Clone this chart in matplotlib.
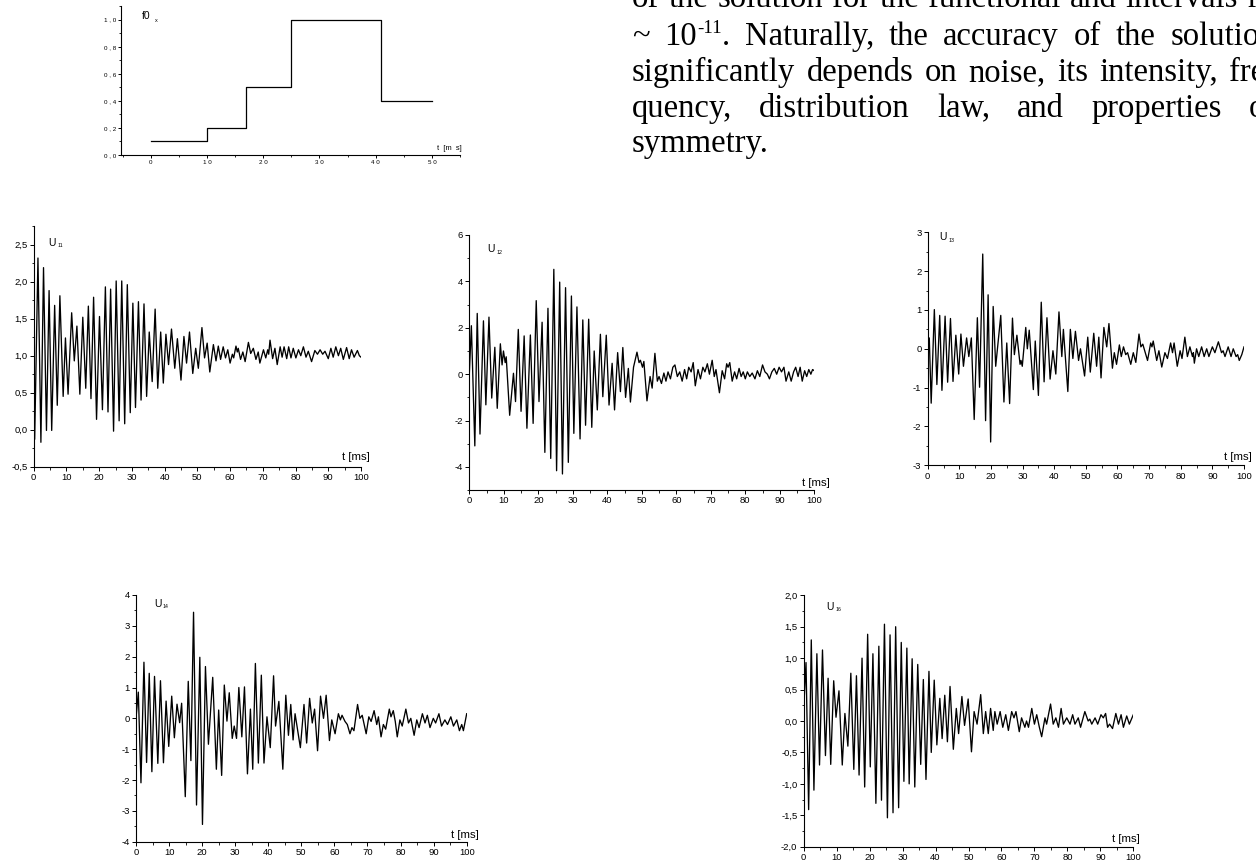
import matplotlib
matplotlib.use("Agg")
import matplotlib.pyplot as plt
from matplotlib.ticker import MultipleLocator, FuncFormatter

W, H = 1256, 865
fig = plt.figure(figsize=(W / 100, H / 100), dpi=100)
fig.patch.set_facecolor("white")

SANS = "Liberation Sans"
SERIF = "Liberation Serif"

# ---------------- data ----------------
f0_t = [0, 10, 17, 25, 41, 50]
f0_v = [0.1, 0.2, 0.5, 1.0, 0.4, 0.4]

u11_t = [0, 0.3, 1.3, 2.2, 3.0, 3.9, 4.7, 5.5, 6.4, 7.2, 8.0, 9.0, 9.7, 10.5, 11.6, 12.4, 13.2, 14.1,
         15.0, 15.9, 16.7, 17.5, 18.3, 19.2, 20.1, 21.0, 21.9, 22.7, 23.5, 24.4, 25.2, 26.1, 26.9, 27.8,
         28.6, 29.5, 30.3, 31.1, 32.0, 32.8, 33.7, 34.5, 35.3, 36.2, 37.1, 37.9, 38.8, 39.6, 40.4, 41.2,
         42.1, 43.1, 43.9, 45.0, 45.9, 46.7, 47.6, 48.6, 49.5, 50.3, 51.4, 52.2, 53.0, 53.8, 54.9,
         55.7, 56.4, 57.1, 57.9, 58.6, 59.3, 60.0, 60.7, 61.1, 61.8, 62.2, 62.5, 63.2, 63.9, 64.6, 65.6,
         66.3, 67.1, 67.9, 68.6, 69.1, 70.2, 70.9, 71.5, 71.8, 72.2, 73.0, 73.7, 74.4, 75.3, 75.9, 76.5,
         77.3, 77.9, 78.6, 79.3, 80.1, 80.9, 81.6, 82.4, 83.2, 83.9, 84.9, 85.9, 86.7, 87.5, 88.3, 89.0,
         90.0, 90.8, 91.5, 92.3, 93.1, 93.8, 94.6, 95.6, 96.4, 97.1, 97.9, 98.9, 99.5, 100]
u11_v = [1.0, -0.13, 2.32, -0.17, 2.19, -0.01, 1.88, -0.01, 1.68, 0.33, 1.81, 0.45, 1.24, 0.48, 1.58, 0.93,
         1.40, 0.48, 1.52, 0.56, 1.67, 0.42, 1.79, 0.14, 1.53, 0.27, 1.93, 0.24, 1.90, -0.02, 2.01, 0.12,
         2.01, 0.08, 1.96, 0.23, 1.71, 0.30, 1.73, 0.40, 1.70, 0.45, 1.32, 0.65, 1.63, 0.56, 1.32, 0.63,
         1.29, 0.88, 1.36, 0.83, 1.23, 0.67, 1.26, 0.90, 1.32, 0.76, 1.10, 0.83, 1.38, 0.97, 1.17, 0.78,
         1.15, 0.93, 1.13, 0.95, 1.12, 0.97, 1.08, 0.90, 1.02, 0.97, 1.13, 1.05, 1.10, 0.95, 1.05, 0.92,
         1.18, 1.03, 1.10, 0.95, 1.05, 0.90, 1.08, 0.97, 1.08, 1.02, 1.21, 0.96, 1.10, 0.88, 1.12, 0.98,
         1.12, 0.96, 1.12, 0.97, 1.10, 0.97, 1.08, 1.00, 1.12, 0.98, 1.06, 0.92, 1.07, 1.02, 1.08, 1.02,
         1.06, 0.96, 1.10, 0.98, 1.12, 1.00, 1.10, 0.95, 1.11, 0.96, 1.08, 0.98, 1.07, 1.00, 0.98]

u12_t = [0, 0.6, 1.6, 2.3, 3.1, 4.1, 4.8, 5.7, 6.5, 7.4, 8.1, 9.0, 9.5, 9.9, 10.4, 10.7, 11.7, 12.8, 13.4,
         14.2, 15.0, 15.9, 16.7, 17.7, 18.5, 19.4, 20.2, 21.1, 21.9, 22.8, 23.6, 24.5, 25.3, 26.2, 27.0,
         27.9, 28.7, 29.6, 30.3, 31.2, 32.1, 32.9, 33.7, 34.6, 35.5, 36.2, 37.1, 38.0, 38.7, 39.7, 40.5,
         41.4, 42.1, 43.0, 43.8, 44.5, 45.3, 46.1, 46.7, 47.6, 48.6, 49.2, 49.6, 50.2, 50.6, 51.5, 52.4,
         53.0, 53.8, 54.5, 55.0, 55.7, 56.4, 57.0, 57.6, 58.3, 59.0, 59.6, 60.3, 61.0, 61.7, 62.4, 63.0,
         63.6, 64.3, 64.9, 65.5, 66.3, 67.0, 67.7, 68.3, 69.0, 69.6, 70.4, 71.0, 71.5, 72.5, 73.3, 74.0,
         74.6, 75.0, 75.5, 76.2, 76.9, 77.5, 78.2, 78.8, 79.4, 80.0, 80.6, 81.3, 82.0, 82.8, 83.5, 84.2,
         85.0, 85.7, 86.4, 87.0, 87.7, 88.4, 89.1, 89.8, 90.5, 91.2, 91.8, 92.6, 93.3, 94.0, 94.6, 95.3,
         95.9, 96.5, 97.2, 97.8, 98.4, 99.0, 99.5, 100]
u12_v = [0.0, 2.09, -3.09, 2.62, -2.58, 2.30, -1.32, 2.46, -1.03, 1.16, -1.47, 1.31, 0.40, 1.0, 0.5, 0.75,
         -1.77, 0.04, -1.18, 1.93, -1.6, 1.65, -2.33, 1.69, -2.12, 3.17, -1.18, 2.24, -3.37, 2.84, -3.63,
         4.52, -4.16, 3.97, -4.30, 3.73, -3.80, 3.37, -2.55, 2.9, -2.79, 2.34, -2.2, 2.37, -2.29, 1.0,
         -1.54, 1.72, -0.97, 1.68, -1.33, 0.47, -1.54, 0.93, -0.75, 1.15, -1.0, 0.25, -1.2, 0.3, 0.95,
         0.5, 0.6, 0.3, 0.55, -1.15, -0.1, -0.6, 0.9, -0.3, -0.1, -0.4, 0.05, -0.3, 0.1, -0.2, 0.3, 0.4,
         -0.1, 0.1, -0.3, 0.2, -0.2, 0.3, 0.1, 0.5, -0.5, 0.2, -0.2, 0.3, 0.1, 0.45, 0.0, 0.6, -0.1, 0.2,
         -0.8, 0.15, -0.2, 0.45, 0.3, 0.5, -0.3, 0.1, -0.2, 0.25, -0.1, 0.1, -0.2, 0.1, -0.1, 0.05, -0.2,
         0.15, -0.1, 0.4, 0.1, 0.0, -0.2, 0.1, 0.25, 0.0, 0.3, 0.1, 0.3, -0.3, 0.1, -0.3, 0.1, 0.3, -0.1,
         0.3, -0.3, 0.15, -0.1, 0.2, 0.0, 0.2, 0.15]

u13_t = [0, 0.5, 1.1, 2.1, 2.9, 3.8, 4.5, 5.5, 6.3, 7.2, 8.0, 8.9, 9.8, 10.5, 11.3, 12.3, 13.0, 13.8, 14.7,
         15.7, 16.4, 17.4, 18.3, 19.1, 19.9, 20.7, 21.5, 23.1, 24.1, 25.0, 25.9, 26.8, 27.4, 28.2, 29.2,
         29.5, 29.9, 31.0, 31.5, 32.1, 33.4, 34.0, 35.0, 35.9, 36.8, 37.7, 38.7, 39.6, 40.5, 41.5, 42.4,
         42.9, 44.3, 45.1, 45.9, 46.7, 47.7, 48.3, 49.6, 50.6, 51.4, 52.5, 53.4, 54.1, 54.8, 55.7, 56.6,
         57.3, 58.4, 59.0, 59.7, 60.6, 61.2, 61.9, 62.6, 63.2, 64.2, 65.0, 65.8, 66.8, 67.4, 68.0, 69.5,
         70.5, 70.9, 71.3, 72.4, 73.1, 74.0, 75.0, 75.8, 76.8, 77.4, 77.9, 78.9, 79.8, 80.4, 81.3, 82.1,
         82.9, 83.7, 84.0, 84.3, 85.0, 85.7, 86.6, 87.4, 88.2, 88.9, 90.0, 90.8, 91.9, 92.9, 93.4, 94.0,
         95.0, 95.9, 96.6, 97.5, 98.0, 98.5, 99.3, 100]
u13_v = [0.0, 0.28, -1.40, 1.01, -0.92, 0.86, -1.07, 0.84, -0.86, 0.78, -0.84, 0.35, -0.65, 0.38, -0.45,
         0.28, -0.2, 0.28, -1.82, 0.80, -0.99, 2.44, -1.85, 1.39, -2.40, 1.09, -0.45, 0.86, -1.37, 0.15,
         -1.41, 0.79, -0.15, 0.35, -0.4, -0.3, -0.45, 0.55, 0.0, 0.48, -1.05, 0.2, -1.2, 1.2, -0.85, 0.8,
         -0.78, -0.05, -0.65, 0.95, -0.2, 0.5, -1.1, 0.5, -0.25, 0.45, -0.3, 0.0, -0.7, 0.3, -0.6, 0.4,
         -0.45, 0.3, -0.75, 0.55, 0.05, 0.65, -0.5, -0.1, -0.4, 0.1, -0.2, 0.05, -0.15, -0.1, -0.4, -0.1,
         -0.35, 0.38, 0.05, 0.12, -0.3, 0.15, 0.05, 0.2, -0.3, -0.05, -0.47, -0.1, -0.25, 0.15, -0.1, 0.15,
         -0.45, -0.05, -0.25, 0.3, -0.2, 0.05, -0.2, -0.1, -0.37, 0.0, -0.2, 0.05, -0.2, 0.0, -0.2, 0.05,
         -0.1, 0.18, -0.1, -0.05, -0.2, 0.05, -0.2, 0.0, -0.2, -0.15, -0.3, -0.15, 0.05]

u14_t = [0, 0.7, 1.5, 2.4, 3.2, 4.0, 4.8, 5.6, 6.6, 7.4, 8.3, 9.1, 9.9, 10.8, 11.6, 12.4, 13.2, 13.8, 14.9,
         15.8, 16.6, 17.4, 18.3, 19.3, 20.1, 21.0, 21.9, 23.2, 24.3, 25.0, 25.9, 26.7, 27.5, 28.2, 29.1,
         29.7, 30.4, 31.1, 32.0, 32.8, 33.7, 34.6, 35.3, 36.1, 37.0, 37.9, 38.7, 39.6, 40.6, 41.6, 42.2,
         43.2, 44.4, 45.3, 46.1, 46.8, 47.5, 48.1, 49.7, 50.8, 51.6, 52.5, 53.3, 54.0, 54.9, 55.8, 56.7,
         57.5, 58.5, 59.2, 60.2, 61.2, 61.8, 62.3, 63.2, 63.9, 64.7, 65.3, 65.9, 67.0, 67.7, 68.4, 69.6,
         70.4, 71.1, 72.0, 72.8, 73.3, 74.1, 74.8, 75.5, 76.6, 77.1, 77.8, 78.4, 79.0, 79.8, 80.5, 81.6,
         82.4, 83.1, 84.1, 84.9, 85.6, 86.6, 87.4, 88.1, 88.9, 89.9, 90.6, 91.6, 92.4, 93.4, 94.2, 95.2,
         96.0, 97.0, 97.8, 98.5, 99.0, 100]
u14_v = [0.0, 0.85, -2.09, 1.82, -1.43, 1.46, -1.73, 1.36, -1.46, 1.22, -1.44, 0.56, -0.91, 0.72, -0.63,
         0.46, -0.14, 0.49, -2.54, 1.20, -1.37, 3.44, -2.81, 1.98, -3.44, 1.68, -0.84, 1.33, -1.65, 0.27,
         -1.85, 1.08, -0.09, 0.83, -0.65, -0.25, -0.65, 1.0, -0.6, 1.02, -1.8, 0.3, -1.65, 1.78, -1.45,
         1.4, -1.45, 0.05, -0.95, 1.38, -0.25, 0.55, -1.65, 0.75, -0.55, 0.45, -0.7, 0.15, -0.95, 0.45,
         -0.8, 0.65, -0.15, 0.3, -1.05, 0.72, 0.0, 0.75, -0.72, -0.05, -0.5, 0.15, -0.05, 0.1, -0.1, -0.2,
         -0.5, -0.3, -0.4, 0.45, 0.0, 0.1, -0.5, 0.05, -0.1, 0.25, -0.2, 0.05, -0.6, -0.2, -0.35, 0.3,
         0.05, 0.25, -0.1, -0.6, -0.05, -0.25, 0.3, -0.15, 0.0, -0.55, -0.05, -0.3, 0.15, -0.15, 0.1, -0.3,
         0.0, -0.15, 0.15, -0.25, -0.05, -0.2, 0.05, -0.25, -0.05, -0.4, -0.2, -0.4, 0.15]

u16_t = [0, 0.7, 1.5, 2.3, 3.1, 4.0, 4.8, 5.7, 6.6, 7.4, 8.2, 9.1, 9.8, 10.7, 11.7, 12.5, 13.4, 14.3, 15.2,
         16.0, 16.8, 17.7, 18.5, 19.4, 20.2, 21.0, 21.9, 22.8, 23.6, 24.5, 25.4, 26.2, 27.1, 27.9, 28.8,
         29.6, 30.4, 31.3, 32.0, 32.9, 33.7, 34.6, 35.5, 36.3, 37.1, 38.0, 38.7, 39.6, 40.4, 41.3, 42.0,
         42.8, 43.6, 44.4, 45.4, 46.3, 47.0, 48.0, 48.8, 49.9, 50.9, 51.7, 52.6, 53.7, 54.5, 55.2, 56.0,
         56.7, 57.5, 58.0, 58.7, 59.6, 60.4, 61.3, 62.1, 63.1, 63.8, 64.4, 65.4, 66.1, 67.1, 67.6, 68.2,
         69.2, 70.0, 70.7, 71.5, 72.2, 73.2, 73.7, 74.9, 75.7, 76.5, 77.3, 78.1, 78.8, 79.8, 80.8, 81.6,
         82.3, 83.3, 84.0, 85.3, 86.3, 86.8, 87.4, 88.4, 89.2, 90.2, 90.9, 91.6, 92.2, 92.8, 93.7, 94.7,
         95.5, 96.3, 97.0, 98.0, 98.8, 100]
u16_v = [0.2, 0.93, -1.41, 1.29, -1.10, 1.07, -0.70, 1.13, -0.55, 0.68, -0.69, 0.64, 0.06, 0.48, -0.70,
         0.12, -0.40, 0.76, -0.77, 0.72, -0.86, 1.0, -1.05, 1.38, -0.73, 1.07, -1.31, 1.19, -1.26, 1.54,
         -1.54, 1.37, -1.46, 1.50, -1.38, 1.25, -0.96, 1.16, -1.0, 0.99, -1.05, 0.90, -0.69, 0.66, -0.93,
         0.79, -0.50, 0.65, -0.38, 0.36, -0.28, 0.41, -0.33, 0.55, -0.45, 0.20, -0.20, 0.39, -0.07, 0.35,
         -0.49, 0.15, -0.05, 0.42, -0.2, 0.15, -0.2, 0.2, -0.15, 0.15, -0.05, 0.15, -0.1, 0.1, -0.15, 0.15,
         0.05, 0.15, -0.17, 0.05, -0.1, 0.0, -0.1, 0.2, -0.05, 0.1, -0.1, -0.25, 0.05, -0.05, 0.27, -0.05,
         0.05, -0.1, 0.2, -0.05, 0.05, -0.05, 0.1, -0.05, 0.05, -0.1, 0.15, 0.0, 0.03, -0.05, 0.05, -0.05,
         0.1, 0.05, 0.12, -0.1, -0.05, -0.12, 0.12, -0.05, 0.1, -0.1, 0.08, -0.05, 0.1]

# body text (lines as cut by the right edge of the page)
line1_words = ["of", "the", "solution", "for", "the", "functional", "and", "intervals", "r"]
line2_words = ["~", "10", "-11", ".", "Naturally,", "the", "accuracy", "of", "the", "solution"]
line3_words = ["significantly", "depends", "on", "noise,", "its", "intensity,", "fre-"]
line4_words = ["quency,", "distribution", "law,", "and", "properties", "of"]
line5_words = ["symmetry."]


# ---------------- helpers ----------------
def add_ax(left, right, top, bottom):
    return fig.add_axes([left / W, 1 - bottom / H, (right - left) / W, (bottom - top) / H])


def ftext(x, y, s, size, family=SANS, **kw):
    return fig.text(x / W, 1 - y / H, s, fontsize=size, family=family, **kw)


def style(ax, xmaj, xmin, ymaj, ymin, fmt, lsize=6.8, xfmt=None):
    for s in ("top", "right"):
        ax.spines[s].set_visible(False)
    for s in ("left", "bottom"):
        ax.spines[s].set_linewidth(0.8)
    ax.xaxis.set_major_locator(MultipleLocator(xmaj))
    ax.xaxis.set_minor_locator(MultipleLocator(xmin))
    ax.yaxis.set_major_locator(MultipleLocator(ymaj))
    ax.yaxis.set_minor_locator(MultipleLocator(ymin))
    ax.yaxis.set_major_formatter(FuncFormatter(fmt))
    if xfmt is not None:
        ax.xaxis.set_major_formatter(FuncFormatter(xfmt))
    ax.tick_params(which="major", direction="out", length=3, width=0.7, labelsize=lsize, pad=1.5)
    ax.tick_params(which="minor", direction="out", length=1.8, width=0.6)
    for lab in ax.get_xticklabels() + ax.get_yticklabels():
        lab.set_family(SANS)
    ax.set_facecolor("none")


def comma1(v, pos):
    return ("%.1f" % v).replace(".", ",")


def intf(v, pos):
    return "%d" % round(v)


# ---------------- f0 plot ----------------
ax0 = add_ax(121, 460, 6.2, 155)
ax0.plot(f0_t, f0_v, drawstyle="steps-post", color="black", lw=0.9)
ax0.set_xlim(-5.3, 55)
ax0.set_ylim(0, 1.1)
style(ax0, 10, 5, 0.2, 0.1, lambda v, p: " , ".join(("%.1f" % v).split(".")), lsize=4.5,
      xfmt=lambda v, p: " ".join(str(int(round(v)))))
ax0.tick_params(which="major", length=2.2, pad=1.5)
ax0.tick_params(which="minor", length=1.3)
ftext(141.5, 19, "f0", 7.5)
ftext(154.5, 21.5, "x", 4.0)
ftext(437, 150, "t  [m  s]", 5.4)

# ---------------- U plots ----------------
panels = [
    (u11_t, u11_v, (33.7, 361, 226.2, 466.7), (-0.5, 2.75), 0.5, 0.25, comma1,
     (48.3, 245.5), "11", (342, 460)),
    (u12_t, u12_v, (469.3, 814.3, 235, 490.2), (-5, 6), 2, 1, intf,
     (487.3, 252), "12", (801.5, 486.5)),
    (u13_t, u13_v, (927.7, 1244, 232.3, 465.3), (-3, 3), 1, 0.5, intf,
     (939.3, 240.5), "13", (1223.5, 460)),
    (u14_t, u14_v, (136, 466.7, 595, 841.7), (-4, 4), 1, 0.5, intf,
     (154, 607), "14", (451, 837.5)),
    (u16_t, u16_v, (803.7, 1133.3, 595.3, 846.7), (-2, 2), 0.5, 0.25, comma1,
     (826.7, 609.5), "16", (1112, 841.5)),
]

for t, v, box, ylim, ymaj, ymin, fmt, upos, sub, tpos in panels:
    ax = add_ax(*box)
    ax.plot(t, v, color="black", lw=0.95)
    ax.set_xlim(0, 100)
    ax.set_ylim(*ylim)
    style(ax, 10, 5, ymaj, ymin, fmt, lsize=6.8)
    ftext(upos[0], upos[1], "U", 7.5)
    ftext(upos[0] + 9, upos[1] + 1.5, sub, 3.8)
    ftext(tpos[0], tpos[1], "t [ms]", 8.2)

# ---------------- body text (justified, right margin beyond the crop) ----------------
TS = 23.5
LEFT = 632
MARGIN = 1276
renderer = fig.canvas.get_renderer()


def width_px(t):
    return t.get_window_extent(renderer=renderer).width


def place_line(words, base, right=None, space=None, sup=None, glue=()):
    objs = []
    for w in words:
        if w == sup:
            o = ftext(0, base - 12, w, TS * 0.58, family=SERIF, va="baseline")
        else:
            o = ftext(0, base, w, TS, family=SERIF, va="baseline")
        objs.append(o)
    widths = [width_px(o) for o in objs]
    glued = [(w in glue) for w in words]
    ngaps = sum(1 for k in range(1, len(words)) if not glued[k])
    if right is not None:
        gap = (right - LEFT - sum(widths)) / max(ngaps, 1)
    else:
        gap = space
    x = LEFT
    for k, (o, wdt) in enumerate(zip(objs, widths)):
        if k > 0 and not glued[k]:
            x += gap
        o.set_x(x / W)
        x += wdt


place_line(line1_words, 7, right=1258)
place_line(line2_words, 45, right=MARGIN, sup="-11", glue=("-11", "."))
place_line(line3_words, 81, right=MARGIN)
place_line(line4_words, 117, right=MARGIN)
place_line(line5_words, 152, space=8)

fig.savefig("out.png", dpi=100, facecolor="white")
